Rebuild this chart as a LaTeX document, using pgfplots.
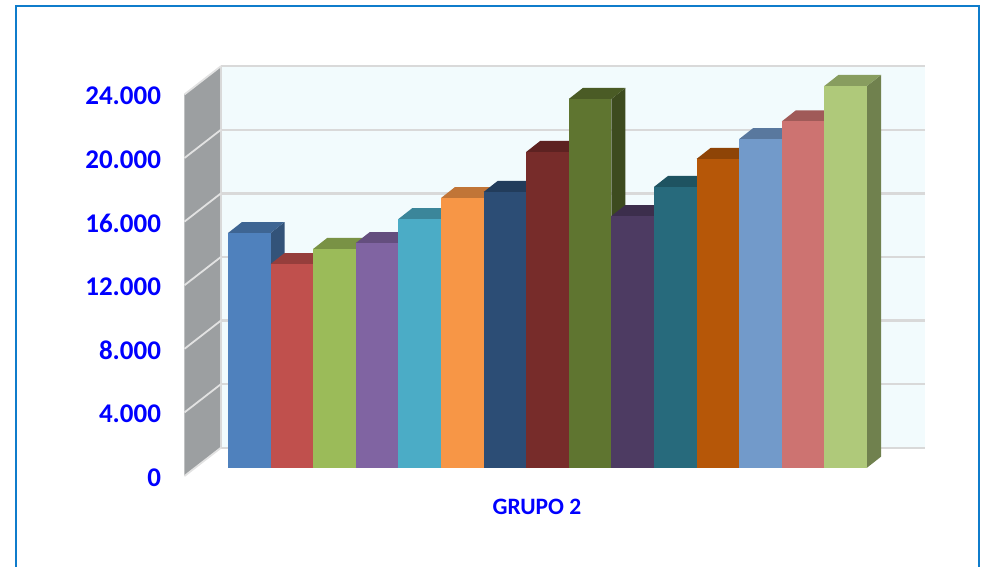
\documentclass[border=0pt]{standalone}
\usepackage{fontspec}
\setmainfont{Carlito}
\usepackage{pgfplots}
\pgfplotsset{compat=1.18}
\definecolor{lbl}{RGB}{0,0,255}
\definecolor{framec}{HTML}{0F7CCB}
\definecolor{wallc}{HTML}{F2FBFD}
\definecolor{sidewall}{HTML}{9C9FA1}
\definecolor{gridc}{HTML}{D9D9D9}
\definecolor{sgrid}{HTML}{E2E2E2}
\definecolor{b1}{HTML}{4F81BD}
\definecolor{b2}{HTML}{C0504D}
\definecolor{b3}{HTML}{9BBB59}
\definecolor{b4}{HTML}{8064A2}
\definecolor{b5}{HTML}{4BACC6}
\definecolor{b6}{HTML}{F79646}
\definecolor{b7}{HTML}{2C4D75}
\definecolor{b8}{HTML}{772C2A}
\definecolor{b9}{HTML}{5F7530}
\definecolor{b10}{HTML}{4D3B62}
\definecolor{b11}{HTML}{276A7C}
\definecolor{b12}{HTML}{B65708}
\definecolor{b13}{HTML}{729ACA}
\definecolor{b14}{HTML}{CD7371}
\definecolor{b15}{HTML}{AFC97A}
% one 3D column: centre, value, value+depth, colour
\newcommand{\tdbar}[4]{%
  \pgfmathsetmacro{\xl}{#1-21.3}
  \pgfmathsetmacro{\xr}{#1+21.3}
  \pgfmathsetmacro{\xlb}{#1-21.3+14}
  \pgfmathsetmacro{\xrb}{#1+21.3+14}
  \addplot[fill=#4!64!black,draw=none] coordinates {(\xr,0)(\xrb,692)(\xrb,#3)(\xr,#2)} --cycle;
  \addplot[fill=#4!78!black,draw=none] coordinates {(\xl,#2)(\xlb,#3)(\xrb,#3)(\xr,#2)} --cycle;
  \addplot[ybar,bar width=42.6,bar shift=0pt,fill=#4,draw=none] coordinates {(#1,#2)};
}
\begin{document}
\begin{tikzpicture}
\useasboundingbox (-185pt,-90pt) rectangle (800pt,476pt);
\draw[framec,line width=2pt] (-168.5pt,-91pt) -- (-168.5pt,470pt) -- (794pt,470pt) -- (794pt,-91pt);
\begin{axis}[
  at={(0pt,0pt)},anchor=south west,
  scale only axis,
  width=740pt,height=409.9pt,
  xmin=185,xmax=925,
  ymin=-522,ymax=25258,
  clip=false,
  axis line style={draw=none},
  major tick length=0pt,
  scaled y ticks=false,
  ytick={-522,3478,7478,11478,15478,19478,23478},
  yticklabels={0,4.000,8.000,12.000,16.000,20.000,24.000},
  yticklabel style={font=\fontsize{27}{31}\selectfont\bfseries,text=lbl,anchor=east,xshift=-20.5pt,yshift=-1.5pt},
  xtick={537},
  xticklabels={GRUPO 2},
  xticklabel style={font=\fontsize{23.5}{27}\selectfont\bfseries,text=lbl,anchor=center,yshift=-31pt},
]
% back wall and left wall
\addplot[fill=wallc,draw=none] coordinates {(221,1258)(925,1258)(925,25258)(221,25258)} --cycle;
\addplot[fill=sidewall,draw=none] coordinates {(184.5,-522)(221,1258)(221,25258)(184.5,23478)} --cycle;
% gridlines
\addplot[gridc,line width=2.4pt] coordinates {(221,1258)(925,1258)};
\addplot[gridc,line width=2.4pt] coordinates {(221,5258)(925,5258)};
\addplot[gridc,line width=2.4pt] coordinates {(221,9258)(925,9258)};
\addplot[gridc,line width=2.4pt] coordinates {(221,13258)(925,13258)};
\addplot[gridc,line width=2.4pt] coordinates {(221,17258)(925,17258)};
\addplot[gridc,line width=2.4pt] coordinates {(221,21258)(925,21258)};
\addplot[gridc,line width=2.4pt] coordinates {(221,25258)(925,25258)};
\addplot[gridc,line width=1.8pt] coordinates {(221,1258)(221,25258)};
\addplot[sgrid,line width=1.8pt] coordinates {(184.5,-522)(221,1258)};
\addplot[sgrid,line width=1.8pt] coordinates {(184.5,3478)(221,5258)};
\addplot[sgrid,line width=1.8pt] coordinates {(184.5,7478)(221,9258)};
\addplot[sgrid,line width=1.8pt] coordinates {(184.5,11478)(221,13258)};
\addplot[sgrid,line width=1.8pt] coordinates {(184.5,15478)(221,17258)};
\addplot[sgrid,line width=1.8pt] coordinates {(184.5,19478)(221,21258)};
\addplot[sgrid,line width=1.8pt] coordinates {(184.5,23478)(221,25258)};
% columns, left to right
\tdbar{249.3}{14760}{15452}{b1}
\tdbar{291.9}{12810}{13502}{b2}
\tdbar{334.5}{13760}{14452}{b3}
\tdbar{377.1}{14130}{14822}{b4}
\tdbar{419.7}{15640}{16332}{b5}
\tdbar{462.3}{16960}{17652}{b6}
\tdbar{504.9}{17340}{18032}{b7}
\tdbar{547.5}{19860}{20552}{b8}
\tdbar{590.1}{23190}{23882}{b9}
\tdbar{632.7}{15830}{16522}{b10}
\tdbar{675.3}{17660}{18352}{b11}
\tdbar{717.9}{19420}{20112}{b12}
\tdbar{760.5}{20670}{21362}{b13}
\tdbar{803.1}{21780}{22472}{b14}
\tdbar{845.7}{24010}{24702}{b15}
\end{axis}
\end{tikzpicture}
\end{document}
